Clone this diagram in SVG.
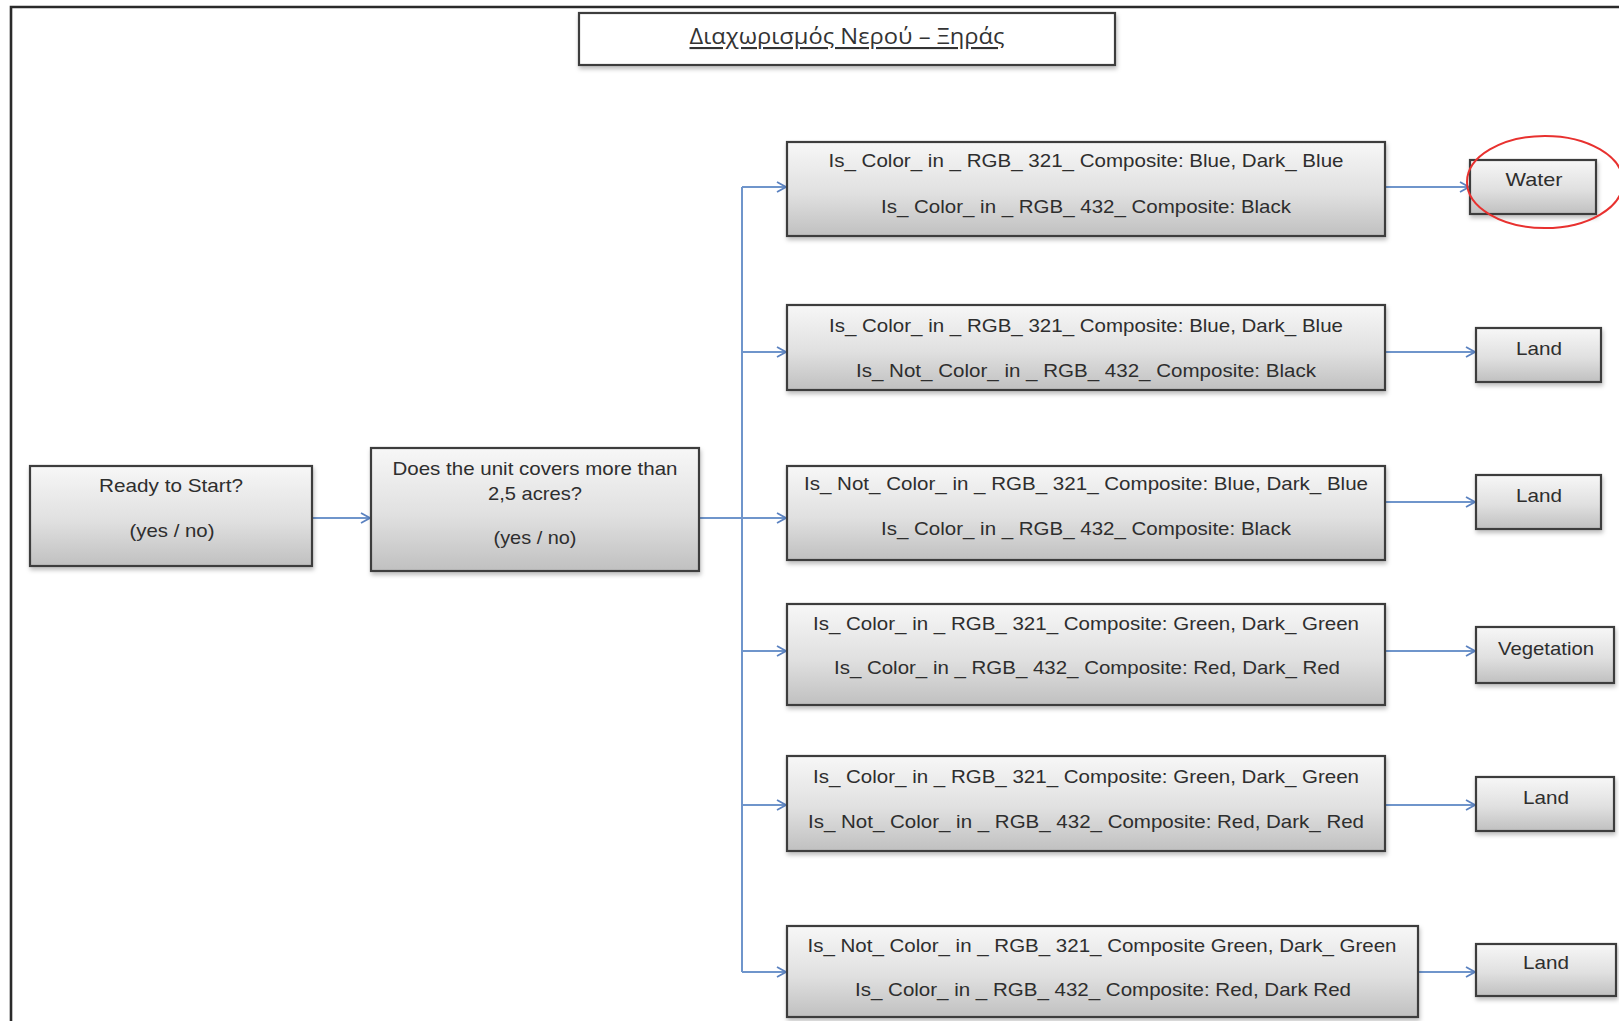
<svg xmlns="http://www.w3.org/2000/svg" width="1619" height="1021" viewBox="0 0 1619 1021">
  <defs>
    <linearGradient id="boxFill" x1="0" y1="0" x2="0" y2="1">
      <stop offset="0" stop-color="#f7f7f7"/>
      <stop offset="0.55" stop-color="#e0e0e0"/>
      <stop offset="1" stop-color="#c0c0c0"/>
    </linearGradient>
    <filter id="shadow" x="-5%" y="-10%" width="110%" height="130%">
      <feDropShadow dx="1" dy="3" stdDeviation="2" flood-color="#000" flood-opacity="0.25"/>
    </filter>
    <marker id="chevron" viewBox="0 0 12 12" refX="11" refY="6" markerWidth="12" markerHeight="12" markerUnits="userSpaceOnUse" orient="auto">
      <path d="M2,1 L11,6 L2,11" fill="none" stroke="#5b82c0" stroke-width="1.8"/>
    </marker>
    <style>
      .box { fill: url(#boxFill); stroke: #3c3c3c; stroke-width: 2.2; filter: url(#shadow); }
      .title-box { fill: #ffffff; stroke: #3c3c3c; stroke-width: 2.2; filter: url(#shadow); }
      .t { font-family: "Liberation Sans", Arial, sans-serif; font-size: 19px; fill: #2e2e2e; text-anchor: middle; dominant-baseline: central; }
      .title { font-family: "Open Sans", "Liberation Sans", sans-serif; font-size: 21px; fill: #333333; text-anchor: middle; dominant-baseline: central; text-decoration: underline; }
      .conn { fill: none; stroke: #6f95cb; stroke-width: 2; }
      .arrow { marker-end: url(#chevron); }
      .frame { fill: none; stroke: #2a2a2a; stroke-width: 2.6; }
    </style>
  </defs>

  <rect width="1619" height="1021" fill="#ffffff"/>

  <!-- page frame (top and left edges) -->
  <path class="frame" d="M11,1021 L11,7 L1619,7"/>

  <!-- heading -->
  <g id="title">
    <rect class="title-box" x="579" y="13" width="536" height="52"/>
    <text class="title" x="847" y="36" textLength="315" lengthAdjust="spacingAndGlyphs">Διαχωρισμός Νερού – Ξηράς</text>
  </g>

  <!-- connectors -->
  <g id="connectors">
    <path class="conn arrow" d="M312,518 L370,518"/>
    <path class="conn" d="M699,518 L742,518"/>
    <path class="conn" d="M742,187 L742,972"/>
    <path class="conn arrow" d="M742,187 L786,187"/>
    <path class="conn arrow" d="M742,352 L786,352"/>
    <path class="conn arrow" d="M742,518 L786,518"/>
    <path class="conn arrow" d="M742,651 L786,651"/>
    <path class="conn arrow" d="M742,805 L786,805"/>
    <path class="conn arrow" d="M742,972 L786,972"/>
    <path class="conn arrow" d="M1385,187 L1469,187"/>
    <path class="conn arrow" d="M1385,352 L1475,352"/>
    <path class="conn arrow" d="M1385,502 L1475,502"/>
    <path class="conn arrow" d="M1385,651 L1475,651"/>
    <path class="conn arrow" d="M1385,805 L1475,805"/>
    <path class="conn arrow" d="M1418,972 L1475,972"/>
  </g>

  <g id="start">
    <rect class="box" x="30" y="466" width="282" height="100"/>
    <text class="t" x="171" y="485" textLength="144" lengthAdjust="spacingAndGlyphs">Ready to Start?</text>
    <text class="t" x="172" y="530" textLength="85" lengthAdjust="spacingAndGlyphs">(yes / no)</text>
  </g>

  <g id="area-check">
    <rect class="box" x="371" y="448" width="328" height="123"/>
    <text class="t" x="535" y="468" textLength="285" lengthAdjust="spacingAndGlyphs">Does the unit covers more than</text>
    <text class="t" x="535" y="493" textLength="94" lengthAdjust="spacingAndGlyphs">2,5 acres?</text>
    <text class="t" x="535" y="537" textLength="83" lengthAdjust="spacingAndGlyphs">(yes / no)</text>
  </g>

  <g id="rule-1">
    <rect class="box" x="787" y="142" width="598" height="94"/>
    <text class="t" x="1086" y="160" textLength="515" lengthAdjust="spacingAndGlyphs">Is_ Color_ in _ RGB_ 321_ Composite: Blue, Dark_ Blue</text>
    <text class="t" x="1086" y="206" textLength="410" lengthAdjust="spacingAndGlyphs">Is_ Color_ in _ RGB_ 432_ Composite: Black</text>
  </g>

  <g id="rule-2">
    <rect class="box" x="787" y="305" width="598" height="85"/>
    <text class="t" x="1086" y="325" textLength="514" lengthAdjust="spacingAndGlyphs">Is_ Color_ in _ RGB_ 321_ Composite: Blue, Dark_ Blue</text>
    <text class="t" x="1086" y="370" textLength="460" lengthAdjust="spacingAndGlyphs">Is_ Not_ Color_ in _ RGB_ 432_ Composite: Black</text>
  </g>

  <g id="rule-3">
    <rect class="box" x="787" y="466" width="598" height="94"/>
    <text class="t" x="1086" y="483" textLength="564" lengthAdjust="spacingAndGlyphs">Is_ Not_ Color_ in _ RGB_ 321_ Composite: Blue, Dark_ Blue</text>
    <text class="t" x="1086" y="528" textLength="410" lengthAdjust="spacingAndGlyphs">Is_ Color_ in _ RGB_ 432_ Composite: Black</text>
  </g>

  <g id="rule-4">
    <rect class="box" x="787" y="604" width="598" height="101"/>
    <text class="t" x="1086" y="623" textLength="546" lengthAdjust="spacingAndGlyphs">Is_ Color_ in _ RGB_ 321_ Composite: Green, Dark_ Green</text>
    <text class="t" x="1087" y="667" textLength="506" lengthAdjust="spacingAndGlyphs">Is_ Color_ in _ RGB_ 432_ Composite: Red, Dark_ Red</text>
  </g>

  <g id="rule-5">
    <rect class="box" x="787" y="756" width="598" height="95"/>
    <text class="t" x="1086" y="776" textLength="546" lengthAdjust="spacingAndGlyphs">Is_ Color_ in _ RGB_ 321_ Composite: Green, Dark_ Green</text>
    <text class="t" x="1086" y="821" textLength="556" lengthAdjust="spacingAndGlyphs">Is_ Not_ Color_ in _ RGB_ 432_ Composite: Red, Dark_ Red</text>
  </g>

  <g id="rule-6">
    <rect class="box" x="787" y="926" width="631" height="91"/>
    <text class="t" x="1102" y="945" textLength="589" lengthAdjust="spacingAndGlyphs">Is_ Not_ Color_ in _ RGB_ 321_ Composite Green, Dark_ Green</text>
    <text class="t" x="1103" y="989" textLength="496" lengthAdjust="spacingAndGlyphs">Is_ Color_ in _ RGB_ 432_ Composite: Red, Dark Red</text>
  </g>

  <g id="result-water">
    <rect class="box" x="1470" y="160" width="126" height="54"/>
    <text class="t" x="1534" y="179" textLength="57" lengthAdjust="spacingAndGlyphs">Water</text>
    <!-- highlight ring around the water outcome -->
    <ellipse cx="1545" cy="182" rx="78" ry="46" fill="none" stroke="#e8312f" stroke-width="2"/>
  </g>

  <g id="result-land-2">
    <rect class="box" x="1476" y="328" width="125" height="54"/>
    <text class="t" x="1539" y="348" textLength="46" lengthAdjust="spacingAndGlyphs">Land</text>
  </g>

  <g id="result-land-3">
    <rect class="box" x="1476" y="475" width="125" height="54"/>
    <text class="t" x="1539" y="495" textLength="46" lengthAdjust="spacingAndGlyphs">Land</text>
  </g>

  <g id="result-vegetation">
    <rect class="box" x="1476" y="627" width="138" height="56"/>
    <text class="t" x="1546" y="648" textLength="96" lengthAdjust="spacingAndGlyphs">Vegetation</text>
  </g>

  <g id="result-land-5">
    <rect class="box" x="1476" y="777" width="138" height="54"/>
    <text class="t" x="1546" y="797" textLength="46" lengthAdjust="spacingAndGlyphs">Land</text>
  </g>

  <g id="result-land-6">
    <rect class="box" x="1476" y="944" width="140" height="52"/>
    <text class="t" x="1546" y="962" textLength="46" lengthAdjust="spacingAndGlyphs">Land</text>
  </g>
</svg>
